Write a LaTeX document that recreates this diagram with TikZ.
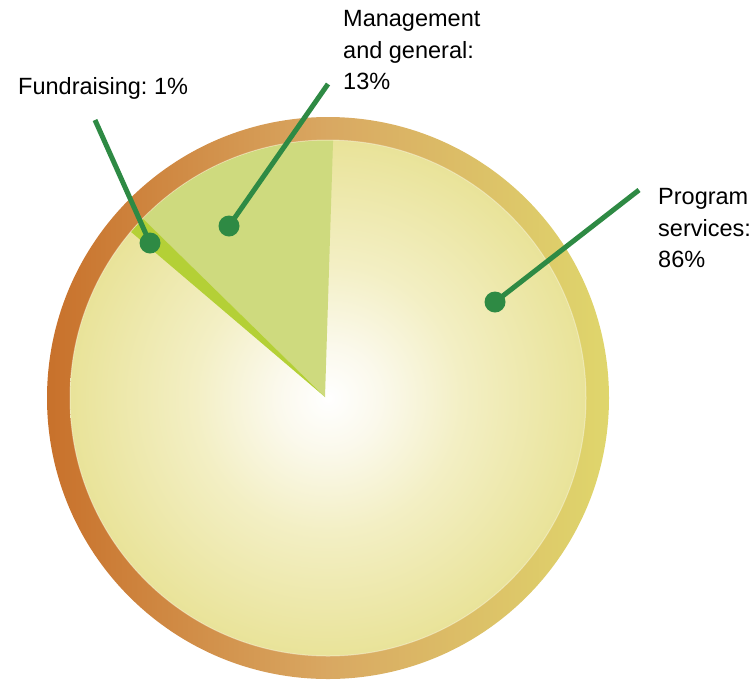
\documentclass[tikz,border=0pt]{standalone}
\usepackage{fontspec}
\setmainfont{Liberation Sans}
\frenchspacing
\definecolor{ringL}{HTML}{C8712B}
\definecolor{ringM}{HTML}{D9A862}
\definecolor{ringR}{HTML}{DFD66C}
\definecolor{pieB}{HTML}{FBF9EC}
\definecolor{pieC}{HTML}{F3EFC4}
\definecolor{pieD}{HTML}{E9E399}
\definecolor{mgmtC}{HTML}{CEDA7E}
\definecolor{fundC}{HTML}{B4D036}
\definecolor{leadC}{HTML}{2E8A44}
\pgfdeclareradialshading{pieshade}{\pgfpoint{0bp}{0bp}}{color(0bp)=(white); color(5bp)=(pieB); color(13bp)=(pieC); color(25bp)=(pieD); color(50bp)=(pieD)}
\tikzset{
  lead/.style={draw=leadC, line width=5pt},
  dot/.style={circle, fill=leadC, minimum size=21pt, inner sep=0pt},
  lbl/.style={font=\fontsize{23.5}{31.5}\selectfont, inner sep=0pt, align=left, text=black},
}
\begin{document}
\begin{tikzpicture}[x=1pt,y=-1pt]
\useasboundingbox (0,0) rectangle (752,681);
\coordinate (C) at (328,398);
\coordinate (A) at (325,397);
% ring
\shade[left color=ringL, right color=ringR, middle color=ringM] (C) circle[radius=281pt];
% inner disc
\shade[shading=pieshade] (C) circle[radius=258pt];
\draw[white, opacity=0.35, line width=1pt] (C) circle[radius=258pt];
% wedges
\begin{scope}
  \clip (C) circle[radius=257.5pt];
  \fill[mgmtC] (A) -- ++(88.2:300pt) arc[start angle=88.2, end angle=135.6, radius=300pt] -- cycle;
  \fill[fundC] (A) -- ++(135.6:300pt) arc[start angle=135.6, end angle=139.6, radius=300pt] -- cycle;
\end{scope}
% dots and leads
\node[dot] (dF) at (150,243) {};
\node[dot] (dM) at (229,226) {};
\node[dot] (dP) at (495,302) {};
\coordinate (eF) at (95,120);
\coordinate (eM) at (328,84);
\coordinate (eP) at (639,190);
\draw[lead] (eF) -- (dF.center);
\draw[lead] (eM) -- (dM.center);
\draw[lead] (eP) -- (dP.center);
% labels
\node[lbl, anchor=base west] (tF) at (18,94.3) {Fundraising: 1\%};
\node[lbl, anchor=north west] (tM) at (343,10.6) {Management\\and general:\\13\%};
\node[lbl, anchor=north west] (tP) at (658,188.3) {Program\\services:\\86\%};
\end{tikzpicture}
\end{document}
